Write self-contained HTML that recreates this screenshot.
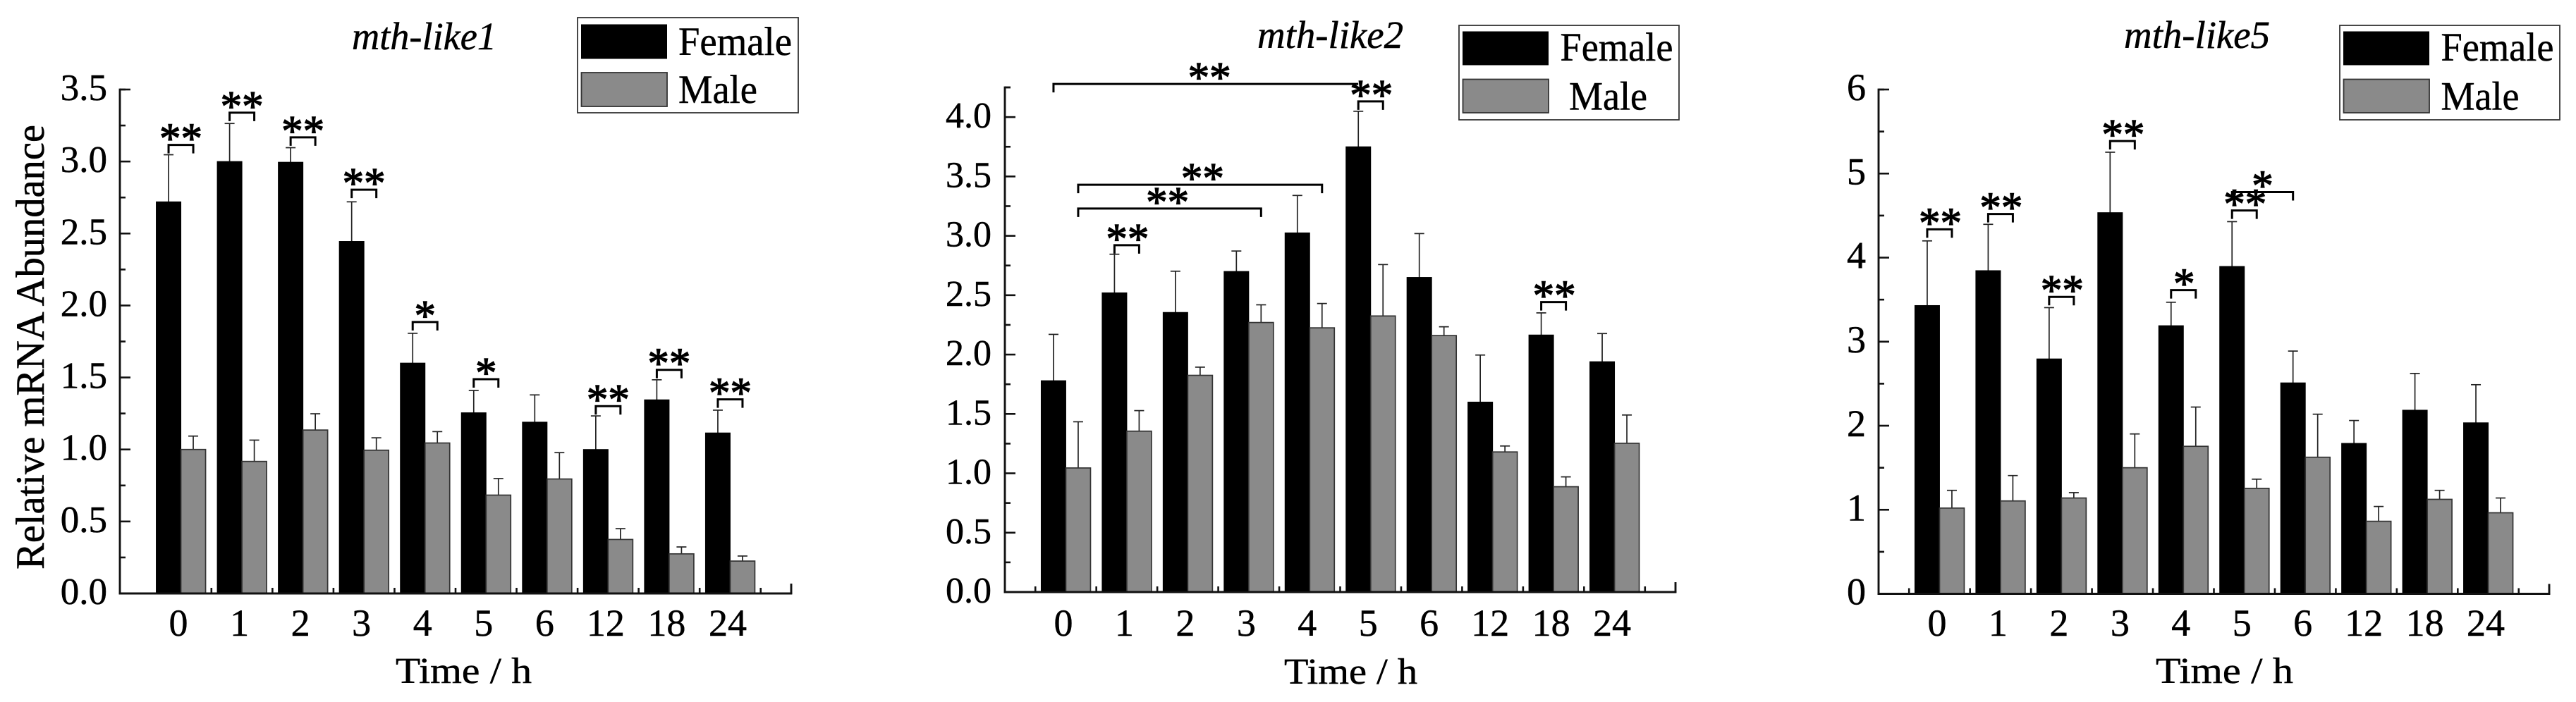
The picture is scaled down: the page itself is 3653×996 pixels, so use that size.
<!DOCTYPE html>
<html lang="en">
<head>
<meta charset="utf-8">
<title>mth-like mRNA abundance by time and sex</title>
<style>
html,body{margin:0;padding:0;background:#fff;width:3653px;height:996px;overflow:hidden}
svg{display:block}
text{font-family:"Liberation Serif",serif;fill:#000;stroke:#000;stroke-width:0.5px}
</style>
</head>
<body>
<svg id="figure" xmlns="http://www.w3.org/2000/svg" width="3653" height="996" viewBox="0 0 3653 996">
  <rect x="0" y="0" width="3653" height="996" fill="#fff"/>

  <text x="499" y="70" font-size="55" font-style="italic" textLength="205" lengthAdjust="spacingAndGlyphs">mth-like1</text>
  <text x="1783" y="68" font-size="55" font-style="italic" textLength="207" lengthAdjust="spacingAndGlyphs">mth-like2</text>
  <text x="3012" y="68" font-size="55" font-style="italic" textLength="207" lengthAdjust="spacingAndGlyphs">mth-like5</text>

  <text transform="translate(62,808) rotate(-90)" font-size="57" textLength="631" lengthAdjust="spacingAndGlyphs">Relative mRNA Abundance</text>

  <text x="561" y="969" font-size="52" textLength="193" lengthAdjust="spacingAndGlyphs">Time / h</text>
  <text x="1821" y="970" font-size="52" textLength="189" lengthAdjust="spacingAndGlyphs">Time / h</text>
  <text x="3057" y="969" font-size="52" textLength="195" lengthAdjust="spacingAndGlyphs">Time / h</text>

  <g>
    <rect x="819" y="25" width="313" height="135" fill="#fff" stroke="#333" stroke-width="1.8"/>
    <rect x="824" y="34.5" width="122" height="49" fill="#000"/>
    <rect x="824.5" y="103" width="121.5" height="48" fill="#8a8a8a" stroke="#333" stroke-width="1.8"/>
    <text x="962" y="78" font-size="57" textLength="161" lengthAdjust="spacingAndGlyphs">Female</text>
    <text x="962" y="146" font-size="57" textLength="112" lengthAdjust="spacingAndGlyphs">Male</text>
  </g>
  <g>
    <rect x="2069" y="36" width="312" height="134" fill="#fff" stroke="#333" stroke-width="1.8"/>
    <rect x="2074" y="44.5" width="122" height="48" fill="#000"/>
    <rect x="2074.5" y="112.5" width="121.5" height="47.5" fill="#8a8a8a" stroke="#333" stroke-width="1.8"/>
    <text x="2212.5" y="86" font-size="57" textLength="160" lengthAdjust="spacingAndGlyphs">Female</text>
    <text x="2225" y="155.5" font-size="57" textLength="111" lengthAdjust="spacingAndGlyphs">Male</text>
  </g>
  <g>
    <rect x="3318" y="36" width="312" height="134" fill="#fff" stroke="#333" stroke-width="1.8"/>
    <rect x="3323" y="44.5" width="122" height="48" fill="#000"/>
    <rect x="3323.5" y="112.5" width="121.5" height="47.5" fill="#8a8a8a" stroke="#333" stroke-width="1.8"/>
    <text x="3461.5" y="86" font-size="57" textLength="160" lengthAdjust="spacingAndGlyphs">Female</text>
    <text x="3461.5" y="155.5" font-size="57" textLength="111" lengthAdjust="spacingAndGlyphs">Male</text>
  </g>
</svg>

<script>
const categories = ['0','1','2','3','4','5','6','12','18','24'];

const like1Female = [2.72,3.00,2.995,2.445,1.60,1.255,1.19,1.00,1.345,1.115];
const like1FemaleErr = [0.327,0.264,0.101,0.275,0.207,0.155,0.189,0.233,0.139,0.158];
const like1Male = [1.00,0.917,1.135,0.995,1.045,0.683,0.795,0.375,0.275,0.225];
const like1MaleErr = [0.093,0.148,0.113,0.086,0.079,0.115,0.183,0.075,0.048,0.035];
const like1Ticks = ['0.0','0.5','1.0','1.5','2.0','2.5','3.0','3.5'];

const like2Female = [1.78,2.52,2.355,2.70,3.025,3.75,2.65,1.60,2.165,1.94];
const like2FemaleErr = [0.39,0.325,0.347,0.172,0.315,0.299,0.369,0.396,0.186,0.237];
const like2Male = [1.045,1.355,1.825,2.27,2.225,2.325,2.16,1.18,0.887,1.253];
const like2MaleErr = [0.389,0.173,0.069,0.149,0.205,0.433,0.074,0.05,0.083,0.238];
const like2Ticks = ['0.0','0.5','1.0','1.5','2.0','2.5','3.0','3.5','4.0'];

const like5Female = [3.43,3.845,2.795,4.535,3.19,3.895,2.51,1.79,2.185,2.035];
const like5FemaleErr = [0.769,0.551,0.61,0.719,0.279,0.533,0.378,0.272,0.437,0.453];
const like5Male = [1.02,1.105,1.14,1.50,1.755,1.255,1.625,0.863,1.124,0.964];
const like5MaleErr = [0.211,0.302,0.064,0.402,0.467,0.109,0.512,0.176,0.107,0.176];
const like5Ticks = ['0','1','2','3','4','5','6'];

/* significance brackets: category index + series at each end, value level, marker */
const like1Brackets = [
  {a:0,as:-1,b:0,bs:1,level:3.115,mark:'**'},
  {a:1,as:-1,b:1,bs:1,level:3.339,mark:'**'},
  {a:2,as:-1,b:2,bs:1,level:3.168,mark:'**'},
  {a:3,as:-1,b:3,bs:1,level:2.804,mark:'**'},
  {a:4,as:-1,b:4,bs:1,level:1.885,mark:'*'},
  {a:5,as:-1,b:5,bs:1,level:1.488,mark:'*'},
  {a:7,as:-1,b:7,bs:1,level:1.301,mark:'**'},
  {a:8,as:-1,b:8,bs:1,level:1.553,mark:'**'},
  {a:9,as:-1,b:9,bs:1,level:1.348,mark:'**'}
];
const like2Brackets = [
  {a:0,as:-1,b:5,bs:-1,level:4.279,mark:'**',open:true,shift:5},
  {a:5,as:-1,b:5,bs:1,level:4.132,mark:'**',shift:1},
  {a:0,as:1,b:4,bs:1,level:3.43,mark:'**',shift:3.5},
  {a:0,as:1,b:3,bs:1,level:3.23,mark:'**',shift:-3},
  {a:1,as:-1,b:1,bs:1,level:2.921,mark:'**',shift:1},
  {a:8,as:-1,b:8,bs:1,level:2.442,mark:'**',shift:1}
];
const like5Brackets = [
  {a:0,as:-1,b:0,bs:1,level:4.337,mark:'**',shift:1},
  {a:1,as:-1,b:1,bs:1,level:4.519,mark:'**',shift:1},
  {a:2,as:-1,b:2,bs:1,level:3.533,mark:'**',shift:1},
  {a:3,as:-1,b:3,bs:1,level:5.387,mark:'**',shift:1},
  {a:4,as:-1,b:4,bs:1,level:3.613,mark:'*',shift:1},
  {a:5,as:-1,b:5,bs:1,level:4.561,mark:'**',shift:1},
  {a:5,as:-1,b:6,bs:-1,level:4.78,mark:'*'}
];

const NS = 'http://www.w3.org/2000/svg';
const figure = document.getElementById('figure');

function shape(parent, tag, props) {
  const el = document.createElementNS(NS, tag);
  Object.keys(props).forEach(function (k) { el.setAttribute(k, props[k]); });
  parent.appendChild(el);
  return el;
}

function drawPanel(p) {
  const step = p.axisWidth / 11;
  const barW = 35;
  const xCat = function (i) { return p.x0 + step * (i + 1); };
  const xBar = function (i, s) { return xCat(i) + s * barW / 2; };
  const yVal = function (v) { return p.y0 - (v / p.vmax) * (p.y0 - p.yTop); };

  const g = shape(figure, 'g', {});
  
  

  /* bars and error bars */
  categories.forEach(function (cat, i) {
    [[-1, p.female, p.femaleErr, 'female'], [1, p.male, p.maleErr, 'male']].forEach(function (s) {
      const cx = xBar(i, s[0]);
      const top = yVal(s[1][i]);
      const errTop = yVal(s[1][i] + s[2][i]);

      const stem = shape(g, 'line', {x1: cx, x2: cx, y1: top, y2: errTop, stroke: '#222', 'stroke-width': 1.7});
      
      

      const cap = shape(g, 'line', {x1: cx - 7, x2: cx + 7, y1: errTop, y2: errTop, stroke: '#222', 'stroke-width': 1.7});
      
      

      const bar = shape(g, 'rect', {
        x: cx - barW / 2, y: top, width: barW, height: p.y0 - top,
        fill: s[0] < 0 ? '#000' : '#8a8a8a',
        stroke: s[0] < 0 ? '#000' : '#333', 'stroke-width': s[0] < 0 ? 1 : 1.7
      });
      
      
    });

    const lab = shape(g, 'text', {x: xCat(i) - 3.5, y: 902, 'font-size': 54, 'text-anchor': 'middle'});
    lab.textContent = cat;
    
    
  });

  /* axes */
  const yAxis = shape(g, 'line', {x1: p.x0, x2: p.x0, y1: p.yTop - 1.4, y2: p.y0 + 1.4, stroke: '#111', 'stroke-width': 2.9});
  
  

  const xAxis = shape(g, 'line', {x1: p.x0 - 1.4, x2: p.x0 + p.axisWidth + 1.4, y1: p.y0, y2: p.y0, stroke: '#111', 'stroke-width': 3});
  
  

  for (let i = p.firstMinorX; i < 11; i++) {
    const tx = p.x0 + step * (i + 0.5);
    const minorX = shape(g, 'line', {x1: tx, x2: tx, y1: p.y0, y2: p.y0 - 8, stroke: '#111', 'stroke-width': 2.6});
    
    
  }
  const endTick = shape(g, 'line', {x1: p.x0 + p.axisWidth, x2: p.x0 + p.axisWidth, y1: p.y0 + 1, y2: p.y0 - 14, stroke: '#111', 'stroke-width': 2.9});
  
  

  p.ticks.forEach(function (label, i) {
    const v = parseFloat(label);
    const ty = yVal(v);
    const major = shape(g, 'line', {x1: p.x0, x2: p.x0 + 15, y1: ty, y2: ty, stroke: '#111', 'stroke-width': 2.6});
    
    

    const t = shape(g, 'text', {x: p.labelRight, y: ty + p.labelDy, 'font-size': p.labelSize, 'text-anchor': 'end'});
    t.textContent = label;
    
    

    const next = p.ticks[i + 1] !== undefined ? parseFloat(p.ticks[i + 1]) : v + (v - parseFloat(p.ticks[i - 1]));
    const mid = (v + next) / 2;
    if (mid <= p.vmax + 0.001) {
      const my = yVal(mid);
      const minor = shape(g, 'line', {x1: p.x0, x2: p.x0 + 8, y1: my, y2: my, stroke: '#111', 'stroke-width': 2.6});
      
      
    }
  });

  /* a short cap marking the axis top when it runs past the last major tick */
  const topCap = shape(g, 'line', {x1: p.x0, x2: p.x0 + 8, y1: p.yTop, y2: p.yTop, stroke: '#111', 'stroke-width': 2.6});
  
  

  /* significance brackets */
  p.brackets.forEach(function (b, n) {
    const xa = xBar(b.a, b.as);
    const xb = xBar(b.b, b.bs);
    const by = yVal(b.level);
    const rightDrop = b.open ? 0 : 12;
    const path = shape(g, 'path', {
      d: 'M' + xa + ' ' + (by + 12) + 'V' + by + 'H' + xb + 'V' + (by + rightDrop),
      fill: 'none', stroke: '#000', 'stroke-width': 3
    });
    
    

    const mark = shape(g, 'text', {x: (xa + xb) / 2 + (b.shift || 0), y: by + 11, 'font-size': 61, 'text-anchor': 'middle', style: 'stroke-width:1.3px'});
    mark.textContent = b.mark;
    
    
  });
}

drawPanel({name: 'mth-like1', x0: 170, axisWidth: 952, y0: 842, yTop: 127, vmax: 3.5, firstMinorX: 1,
  labelRight: 152, labelDy: 15, labelSize: 53, ticks: like1Ticks, brackets: like1Brackets,
  female: like1Female, femaleErr: like1FemaleErr, male: like1Male, maleErr: like1MaleErr});
drawPanel({name: 'mth-like2', x0: 1425, axisWidth: 951, y0: 840, yTop: 124, vmax: 4.25, firstMinorX: 0,
  labelRight: 1406, labelDy: 15, labelSize: 52, ticks: like2Ticks, brackets: like2Brackets,
  female: like2Female, femaleErr: like2FemaleErr, male: like2Male, maleErr: like2MaleErr});
drawPanel({name: 'mth-like5', x0: 2664, axisWidth: 951, y0: 842.5, yTop: 127, vmax: 6, firstMinorX: 0,
  labelRight: 2646, labelDy: 15, labelSize: 54, ticks: like5Ticks, brackets: like5Brackets,
  female: like5Female, femaleErr: like5FemaleErr, male: like5Male, maleErr: like5MaleErr});
</script>
</body>
</html>
